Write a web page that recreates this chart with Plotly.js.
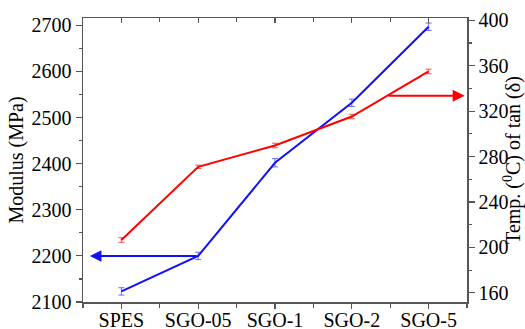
<!DOCTYPE html>
<html><head><meta charset="utf-8">
<script src="https://cdn.plot.ly/plotly-3.0.1.min.js"></script>
<style>html,body{margin:0;padding:0;background:#fff}</style>
</head><body><div id="chart" style="width:525px;height:329px"></div>
<script>
const categories = ["SPES", "SGO-05", "SGO-1", "SGO-2", "SGO-5"];
const modulus = [2123, 2200, 2402, 2532, 2697];
const modulusErr = [8, 8, 9, 8, 8];
const temperature = [206.5, 271, 289.8, 315.3, 355];
const temperatureErr = [2, 1.5, 2, 2, 2];
const leftTicks = [2100, 2200, 2300, 2400, 2500, 2600, 2700];
const rightTicks = [160, 200, 240, 280, 320, 360, 400];

const xs = categories.map((c, i) => i);
const font = {family: "Liberation Serif", size: 20, color: "#000"};

const traces = [
  {x: xs, y: modulus, type: "scatter", mode: "lines", yaxis: "y",
   line: {color: "#1010ff", width: 2},
   error_y: {type: "data", array: modulusErr, visible: true, color: "#6a6aff", thickness: 1, width: 3},
   hoverinfo: "skip"},
  {x: xs, y: temperature, type: "scatter", mode: "lines", yaxis: "y2",
   line: {color: "#ff0000", width: 2},
   error_y: {type: "data", array: temperatureErr, visible: true, color: "#ff5050", thickness: 1, width: 3},
   hoverinfo: "skip"},
  {x: [xs[0]], y: [modulus[0]], xaxis: "x2", yaxis: "y", mode: "markers",
   marker: {opacity: 0}, hoverinfo: "skip", showlegend: false}
];

const axLine = {showline: true, linecolor: "#555", linewidth: 1.5, zeroline: false, showgrid: false, ticks: "outside", tickcolor: "#555", tickwidth: 1.2};

const layout = {
  width: 525, height: 329,
  margin: {l: 83, r: 58, t: 18, b: 27},
  paper_bgcolor: "#fff", plot_bgcolor: "#fff",
  showlegend: false,
  font: font,
  xaxis: Object.assign({}, axLine, {
    range: [-0.5, 4.5], tickmode: "array", tickvals: xs, ticktext: categories,
    ticklen: 5, tickfont: font, automargin: false, ticklabelstandoff: -6,
    minor: {tickmode: "linear", tick0: 0.5, dtick: 0.5, ticks: "outside", ticklen: 4, tickcolor: "#555", tickwidth: 1.2}
  }),
  xaxis2: Object.assign({}, axLine, {
    overlaying: "x", side: "top", range: [-0.5, 4.5], anchor: "y",
    tickmode: "array", tickvals: xs, showticklabels: false, ticks: "inside", ticklen: 5,
    minor: {tickmode: "linear", tick0: 0.5, dtick: 0.5, ticks: "inside", ticklen: 4, tickcolor: "#555", tickwidth: 1.2}
  }),
  yaxis: Object.assign({}, axLine, {
    range: [2100, 2716], tickmode: "array", tickvals: leftTicks, ticklen: 6, tickfont: font,
    minor: {tickmode: "linear", tick0: 2150, dtick: 100, ticks: "outside", ticklen: 3, tickcolor: "#555", tickwidth: 1.2},
    title: {text: "Modulus (MPa)", font: font, standoff: 2}, automargin: false
  }),
  yaxis2: Object.assign({}, axLine, {
    overlaying: "y", side: "right", range: [151.9, 402.1], tickmode: "array", tickvals: rightTicks,
    ticklen: 6, tickfont: font,
    minor: {tickmode: "linear", tick0: 180, dtick: 40, ticks: "outside", ticklen: 3, tickcolor: "#555", tickwidth: 1.2},
    title: {text: "Temp. (<sup>0</sup>C) of tan (δ)", font: font, standoff: 2}, automargin: false
  }),
  annotations: [
    {x: -0.41, y: 2200, xref: "x", yref: "y", ax: 1, ay: 2200, axref: "x", ayref: "y",
     showarrow: true, arrowhead: 2, arrowsize: 1.15, arrowwidth: 2, arrowcolor: "#1010ff", text: ""},
    {x: 4.47, y: 333.5, xref: "x", yref: "y2", ax: 3.46, ay: 333.5, axref: "x", ayref: "y2",
     showarrow: true, arrowhead: 2, arrowsize: 1.2, arrowwidth: 2, arrowcolor: "#ff0000", text: ""}
  ]
};

Plotly.newPlot("chart", traces, layout, {displayModeBar: false, staticPlot: true});
</script>
</body></html>
